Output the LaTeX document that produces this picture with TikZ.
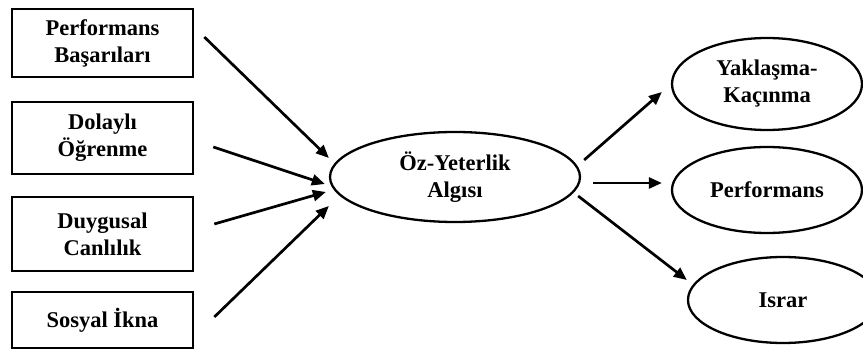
\documentclass[tikz,border=0pt]{standalone}
\usepackage{fontspec}
\setmainfont{Liberation Serif}
\usetikzlibrary{shapes.geometric,arrows.meta,calc}
\begin{document}
\begin{tikzpicture}[x=1pt,y=-1pt,
  lbl/.style={font=\fontsize{22.5}{27}\selectfont\bfseries, align=center},
  srcbox/.style={lbl, draw, line width=2.6pt, minimum width=181pt, inner sep=0pt},
  oval/.style={lbl, draw, ellipse, line width=2.3pt, inner sep=0pt},
  arr/.style={line width=2.7pt, -{Triangle[length=13pt,width=11pt]}}]
\useasboundingbox (0,0) rectangle (863,352);

% source factors
\node[srcbox, minimum height=68pt] (b1) at (102.5,43) {Performans\\Başarıları};
\node[srcbox, minimum height=72pt] (b2) at (102.5,138) {Dolaylı\\Öğrenme};
\node[srcbox, minimum height=74pt] (b3) at (102.5,234) {Duygusal\\Canlılık};
\node[srcbox, minimum height=56pt] (b4) at (102.5,320) {Sosyal İkna};

% central construct
\node[oval, minimum width=250pt, minimum height=90pt] (oz) at (455,177) {Öz-Yeterlik\\Algısı};

% outcomes
\node[oval, minimum width=190pt, minimum height=92pt] (y1) at (767,84) {Yaklaşma-\\Kaçınma};
\node[oval, minimum width=190pt, minimum height=86pt] (pf) at (767,190) {Performans};
\node[oval, minimum width=190pt, minimum height=86pt] (is) at (783,300) {Israr};

% incoming arrows
\draw[arr] ($(b1.east)+(10,-6)$) -- ($(oz.west)+(0,-19)$);
\draw[arr] ($(b2.east)+(19,9)$) -- ($(oz.west)+(-4,7)$);
\draw[arr] ($(b3.east)+(20,-10)$) -- ($(oz.west)+(-3,15)$);
\draw[arr] ($(b4.east)+(20,-3)$) -- ($(oz.west)+(0,29)$);

% outgoing arrows
\draw[arr] ($(oz.east)+(3,-17)$) -- ($(y1.west)+(-9,8)$);
\draw[arr] ($(oz.east)+(12,6)$) -- ($(pf.west)+(-9,-7)$);
\draw[arr] ($(oz.east)+(-3,19)$) -- ($(is.west)+(0,-20)$);
\end{tikzpicture}
\end{document}
